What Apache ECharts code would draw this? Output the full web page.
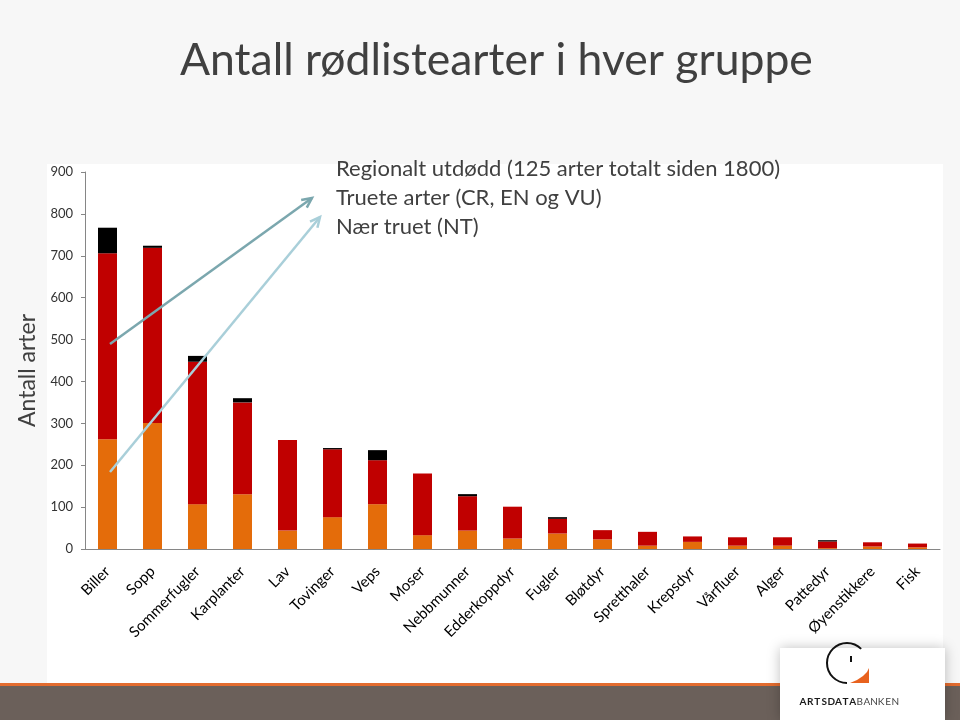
<!DOCTYPE html>
<html>
<head>
<meta charset="utf-8">
<script src="https://cdn.jsdelivr.net/npm/echarts@6/dist/echarts.min.js"></script>
<style>html,body{margin:0;padding:0;background:#f7f7f7;}#c{width:960px;height:720px;}</style>
</head>
<body>
<div id="c"></div>
<script>
var categories = ['Biller','Sopp','Sommerfugler','Karplanter','Lav','Tovinger','Veps','Moser','Nebbmunner','Edderkoppdyr','Fugler','Bløtdyr','Spretthaler','Krepsdyr','Vårfluer','Alger','Pattedyr','Øyenstikkere','Fisk'];
var nearThreatened = [262, 301, 107, 131, 44, 76, 107, 33, 44, 25, 37, 23, 8, 17, 8, 8, 2, 6, 4];
var threatened     = [444, 418, 340, 219, 216, 162, 105, 147, 82, 76, 35, 22, 33, 13, 20, 20, 16, 10, 9];
var regionallyExtinct = [61, 5, 14, 10, 0, 3, 24, 0, 5, 0, 4, 0, 0, 0, 0, 0, 3, 0, 0];
var seriesNames = ['Regionalt utdødd (125 arter totalt siden 1800)', 'Truete arter (CR, EN og VU)', 'Nær truet (NT)'];
var yTicks = [0, 100, 200, 300, 400, 500, 600, 700, 800, 900];

var FONT = 'Lato, "Open Sans", sans-serif';

function arrow(x1, y1, x2, y2, color) {
  var ang = Math.atan2(y2 - y1, x2 - x1);
  var L = 11, a = 0.45;
  var p1 = [x2 - L * Math.cos(ang - a), y2 - L * Math.sin(ang - a)];
  var p2 = [x2 - L * Math.cos(ang + a), y2 - L * Math.sin(ang + a)];
  return [
    {type: 'line', z: 100, shape: {x1: x1, y1: y1, x2: x2, y2: y2}, style: {stroke: color, lineWidth: 2.5}},
    {type: 'polyline', z: 100, shape: {points: [p1, [x2, y2], p2]}, style: {stroke: color, lineWidth: 2.5, fill: null}}
  ];
}

var logoText = 'ARTSDATABANKEN';
var logoLetters = logoText.split('').map(function (ch, i) {
  return {type: 'text', z: 51, style: {x: 803 + i * 7.1, y: 702, text: ch, fill: i < 8 ? '#1a1a1a' : '#444',
    font: (i < 8 ? 'bold ' : '') + '10px ' + FONT, textAlign: 'center', textVerticalAlign: 'middle'}};
});

var chart = echarts.init(document.getElementById('c'));
var graphics = [
  {type: 'rect', z: -10, shape: {x: 47, y: 164, width: 896, height: 519}, style: {fill: '#ffffff'}},
  {type: 'rect', z: -10, shape: {x: 0, y: 683, width: 960, height: 3}, style: {fill: '#e36c2f'}},
  {type: 'rect', z: -10, shape: {x: 0, y: 686, width: 960, height: 34}, style: {fill: '#6b605a'}},
  {type: 'rect', z: 50, shape: {x: 780, y: 648, width: 165, height: 72}, style: {fill: '#ffffff', shadowBlur: 12, shadowColor: 'rgba(0,0,0,0.25)'}},
  {type: 'arc', z: 51, shape: {cx: 847, cy: 663, r: 20, startAngle: Math.PI * 0.5, endAngle: Math.PI * 1.75}, style: {stroke: '#111', lineWidth: 2, fill: null}},
  {type: 'polygon', z: 51, shape: {points: [[869, 668], [869, 683], [850, 683], [857, 680], [863, 676], [867, 672]]}, style: {fill: '#e8621e'}},
  {type: 'line', z: 51, shape: {x1: 851, y1: 656, x2: 851, y2: 662}, style: {stroke: '#111', lineWidth: 2}}
].concat(logoLetters).concat(arrow(110, 344, 312, 198, '#7ba7ae')).concat(arrow(110, 472, 320, 217, '#a9cfd9'));

chart.setOption({
  backgroundColor: '#f7f7f7',
  animation: false,
  title: {
    text: 'Antall rødlistearter i hver gruppe',
    left: 180, top: 38,
    padding: 0,
    textStyle: {fontFamily: FONT, fontSize: 44.5, fontWeight: 'normal', color: '#404040'}
  },
  legend: {
    orient: 'vertical', left: 326, top: 153,
    data: seriesNames,
    icon: 'none', itemWidth: 0, itemHeight: 22, itemGap: 7,
    selectedMode: false,
    textStyle: {fontFamily: FONT, fontSize: 22, color: '#404040', lineHeight: 22}
  },
  grid: {left: 85, right: 20, top: 172, bottom: 171, containLabel: false},
  xAxis: {
    type: 'category', data: categories,
    axisLine: {lineStyle: {color: '#868686'}},
    axisTick: {length: 5, lineStyle: {color: '#868686'}},
    axisLabel: {rotate: 45, interval: 0, margin: 20, padding: [11, 0, 0, 0], fontFamily: FONT, fontSize: 15, color: '#000'}
  },
  yAxis: {
    type: 'value', min: yTicks[0], max: yTicks[yTicks.length - 1], interval: 100,
    name: 'Antall arter', nameLocation: 'middle', nameGap: 45, nameRotate: 90,
    nameTextStyle: {fontFamily: FONT, fontSize: 23, color: '#404040', padding: [0, 20, 0, 0]},
    axisLine: {show: true, lineStyle: {color: '#868686'}},
    axisTick: {show: true, length: 4, lineStyle: {color: '#868686'}},
    splitLine: {show: false},
    axisLabel: {margin: 12, fontFamily: FONT, fontSize: 13, color: '#333'}
  },
  series: [
    {name: seriesNames[2], type: 'bar', stack: 'a', barWidth: 19, data: nearThreatened, itemStyle: {color: '#e46c0a'}},
    {name: seriesNames[1], type: 'bar', stack: 'a', barWidth: 19, data: threatened, itemStyle: {color: '#c00000'}},
    {name: seriesNames[0], type: 'bar', stack: 'a', barWidth: 19, data: regionallyExtinct, itemStyle: {color: '#000000'}}
  ],
  graphic: graphics
});
</script>
</body>
</html>
